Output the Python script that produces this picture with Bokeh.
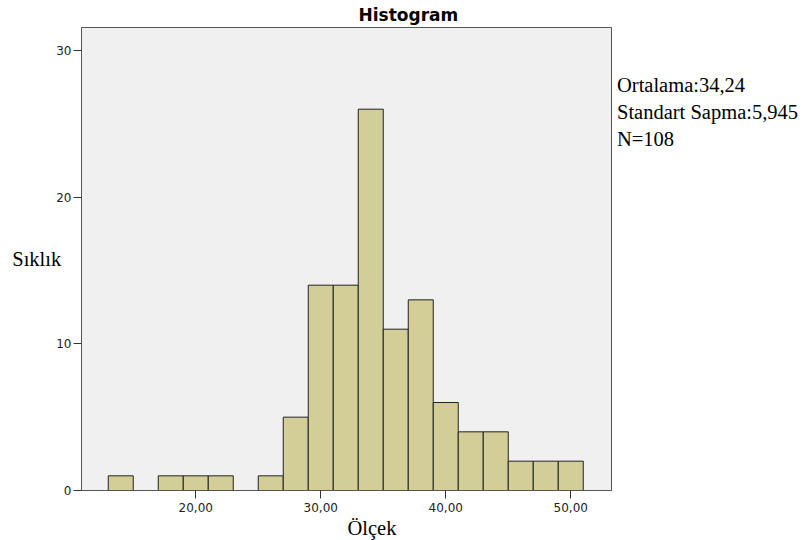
from bokeh.plotting import figure
from bokeh.models import FixedTicker, Range1d, Title, Legend, LegendItem
from bokeh.embed import file_html
from bokeh.resources import INLINE

# Data
bin_edges = [13, 15, 17, 19, 21, 23, 25, 27, 29, 31, 33, 35, 37, 39, 41, 43, 45, 47, 49, 51]
counts = [1, 0, 1, 1, 1, 0, 1, 5, 14, 14, 26, 11, 13, 6, 4, 4, 2, 2, 2]
x_ticks = [20, 30, 40, 50]
x_tick_labels = ["20,00", "30,00", "40,00", "50,00"]
y_ticks = [0, 10, 20, 30]
title_text = "Histogram"
x_label = "Ölçek"
y_label = "Sıklık"
stats_lines = ["Ortalama:34,24", "Standart Sapma:5,945", "N=108"]

SANS = "DejaVu Sans"
SERIF = "Liberation Serif"
SERIF_SIZE = "20.5px"

p = figure(
    frame_width=530, frame_height=463,
    min_border_left=81, min_border_right=198, min_border_top=26, min_border_bottom=51,
    x_range=Range1d(10.86, 53.26), y_range=Range1d(0, 31.57),
    output_backend="svg", toolbar_location=None,
)
p.title = Title(text=title_text, align="left", offset=277, standoff=5,
                text_font=SANS, text_font_size="17px", text_font_style="bold",
                text_color="black")
p.background_fill_color = "#f0f0f0"
p.border_fill_color = "white"
p.outline_line_color = "#555555"
p.outline_line_width = 1
p.xgrid.visible = False
p.ygrid.visible = False

lefts = [bin_edges[i] for i in range(len(counts)) if counts[i] > 0]
rights = [bin_edges[i + 1] for i in range(len(counts)) if counts[i] > 0]
tops = [c for c in counts if c > 0]
p.quad(left=lefts, right=rights, bottom=0, top=tops,
       fill_color="#d3ce97", line_color="#222222", line_width=1)

for ax in (p.xaxis[0], p.yaxis[0]):
    ax.axis_line_color = "#555555"
    ax.major_tick_line_color = "#333333"
    ax.major_tick_out = 8
    ax.major_tick_in = 0
    ax.minor_tick_line_color = None
    ax.major_label_text_font = SANS
    ax.major_label_text_font_size = "12px"
    ax.major_label_text_color = "#222222"

p.xaxis.ticker = FixedTicker(ticks=x_ticks)
p.xaxis.major_label_overrides = {t: l for t, l in zip(x_ticks, x_tick_labels)}
p.xaxis.major_label_standoff = 4
p.yaxis.ticker = FixedTicker(ticks=y_ticks)
p.yaxis.major_label_standoff = 2

# y label, horizontal
p.yaxis.axis_label = y_label
p.yaxis.axis_label_orientation = "horizontal"
p.yaxis.axis_label_text_font = SERIF
p.yaxis.axis_label_text_font_size = SERIF_SIZE
p.yaxis.axis_label_text_font_style = "normal"
p.yaxis.axis_label_text_color = "black"
p.yaxis.axis_label_standoff = -8

# x label as a left-aligned title below the axis
p.add_layout(Title(text=x_label, align="left", offset=266, standoff=0,
                   text_font=SERIF, text_font_size=SERIF_SIZE,
                   text_font_style="normal", text_color="black"), "below")

# statistics block on the right
items = [LegendItem(label=s, renderers=[]) for s in stats_lines]
legend = Legend(items=items, location=(6, 337), orientation="vertical",
                glyph_width=0, glyph_height=27, label_height=27, label_standoff=0,
                spacing=0, padding=0, margin=0,
                label_text_font=SERIF, label_text_font_size=SERIF_SIZE,
                label_text_color="black",
                background_fill_alpha=0, border_line_color=None)
p.add_layout(legend, "right")

open("out.html", "w").write(file_html(p, INLINE))
